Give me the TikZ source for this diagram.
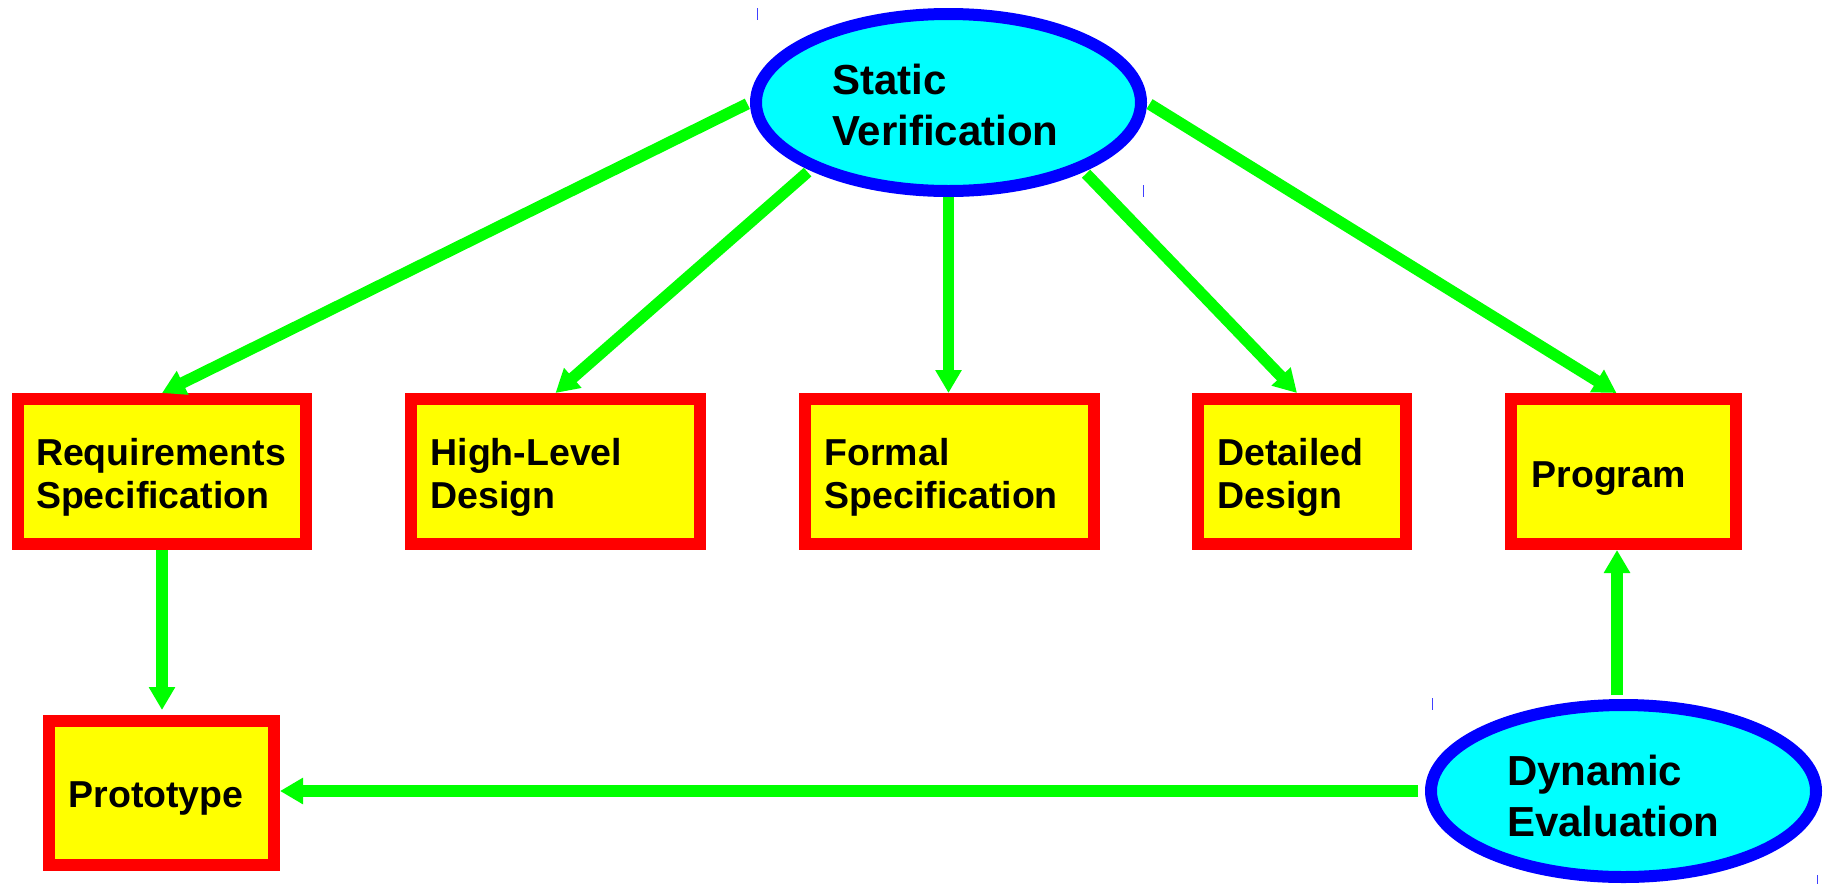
\documentclass[tikz,border=0pt]{standalone}
\usepackage{fontspec}
\setmainfont{Liberation Sans}
\usetikzlibrary{arrows.meta,shapes.geometric}
\definecolor{boxred}{HTML}{FF0000}
\definecolor{boxyellow}{HTML}{FFFF00}
\definecolor{ringblue}{HTML}{0000FF}
\definecolor{fillcyan}{HTML}{00FFFF}
\definecolor{flowgreen}{HTML}{00FF00}
\definecolor{markblue}{HTML}{4040FF}
\begin{document}
\begin{tikzpicture}[x=1pt,y=-1pt,
  stage/.style={rectangle, draw=boxred, fill=boxyellow, line width=12pt,
    inner sep=0pt, minimum height=145pt, align=left,
    font=\bfseries\fontsize{37.5}{42.5}\selectfont},
  twoline/.style={text height=30pt, text depth=42pt},
  oneline/.style={text height=36pt, text depth=5pt},
  activity/.style={ellipse, draw=ringblue, fill=fillcyan, line width=12pt,
    inner sep=0pt, minimum width=385pt, align=left, text width=233pt,
    font=\bfseries\fontsize{42}{51}\selectfont},
  flow/.style={draw=flowgreen, line width=11.5pt,
    -{Triangle[width=25pt,length=23pt]}},
  cornermark/.style={draw=markblue, line width=1pt},
]
% canvas
\path[fill=white, use as bounding box] (0,0) rectangle (1831,884);

% activities
\node[activity, minimum height=177pt, text height=34pt, text depth=51pt]
  (sv) at (948.5,102.5) {Static\\Verification};
\node[activity, minimum height=172pt, text height=38pt, text depth=50pt]
  (dy) at (1623.5,791) {Dynamic\\Evaluation};

% products
\node[stage, twoline, text width=252pt, minimum width=288pt]
  (rq) at (162,471.5) {Requirements\\Specification};
\node[stage, twoline, text width=250pt, minimum width=289pt]
  (hl) at (555.5,471.5) {High-Level\\Design};
\node[stage, twoline, text width=250pt, minimum width=289pt]
  (fs) at (949.5,471.5) {Formal\\Specification};
\node[stage, twoline, text width=169pt, minimum width=208pt]
  (dd) at (1302,471.5) {Detailed\\Design};
\node[stage, oneline, text width=184pt, minimum width=225pt]
  (pg) at (1623.5,471.5) {Program};
\node[stage, text height=35pt, text depth=7pt, text width=186pt,
  minimum width=225pt, minimum height=144pt]
  (pt) at (161.5,793) {Prototype};

% connectors
\draw[flow, shorten <=3pt] (sv.west) -- (rq.north);
\draw[flow, shorten <=3pt] (sv.206) -- (hl.north);
\draw[flow] (sv.south) -- (sv.south |- fs.north);
\draw[flow, shorten <=3pt] (sv.333) -- ([xshift=-5pt]dd.north);
\draw[flow, shorten <=3pt] (sv.east) -- ([xshift=-7pt]pg.north);
\draw[flow, shorten >=5pt] (rq.south) -- (rq.south |- pt.north);
\draw[flow, shorten <=7pt] (dy.west) -- (dy.west -| pt.east);
\draw[flow, shorten <=4pt] ([xshift=-6.5pt]dy.north) -- ([xshift=-6.5pt]pg.south);

% small corner marks
\draw[cornermark] (757,8) -- (757,20);
\draw[cornermark] (1143,185) -- (1143,197);
\draw[cornermark] (1432,698) -- (1432,710);
\draw[cornermark] (1817,875) -- (1817,884);
\end{tikzpicture}
\end{document}
